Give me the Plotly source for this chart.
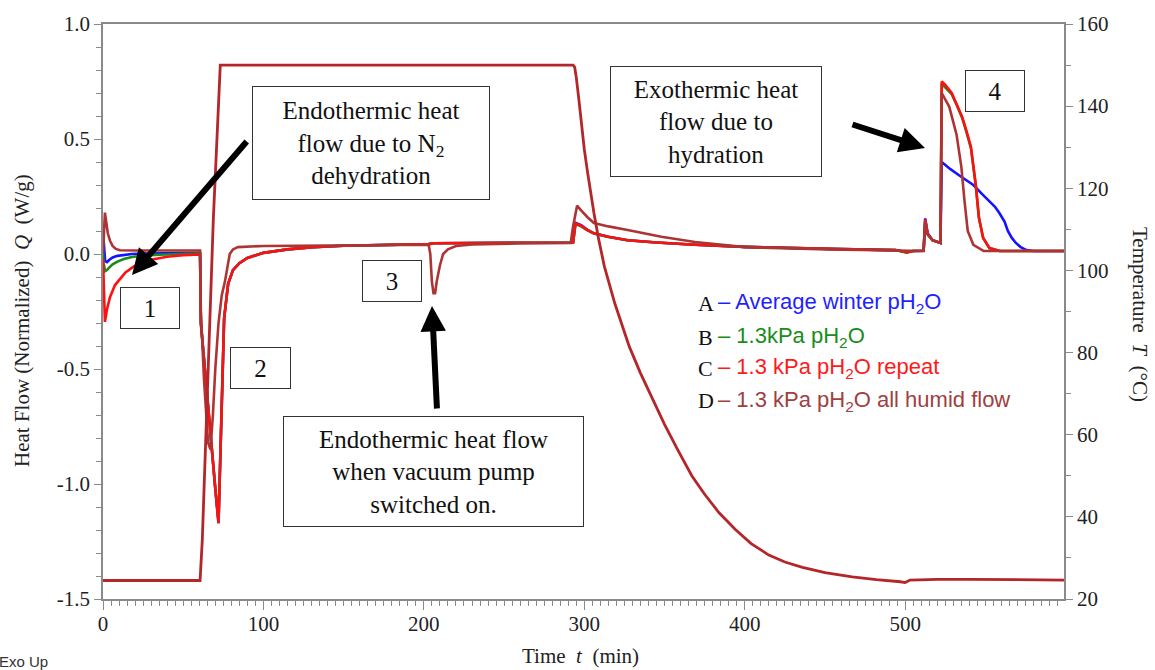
import plotly.graph_objects as go

# ---------------- data ----------------
# A: Average winter pH2O (blue)
tA = [0, 0.4, 1.3, 2.5, 4, 6, 9, 13, 18, 25, 35, 48, 60.5,
      61, 64, 67, 70, 72, 73, 74, 75.5, 77, 78, 81, 85, 90, 100, 115, 131, 150, 173, 200,
      203, 206, 230, 260, 291.5,
      293, 294.5, 298, 302, 306, 315, 327, 345, 369, 400, 431, 460, 494, 498, 501, 505,
      511.5, 512.5, 514, 517, 521, 522,
      522.8, 528, 534, 542.5, 548, 552.5, 556, 559, 562, 564, 566.5, 569, 572, 575.6, 580, 599]
qA = [0.07, 0.06, -0.03, -0.035, -0.025, -0.015, -0.008, -0.003, 0.0, 0.002, 0.003, 0.004, 0.005,
      -0.30, -0.55, -0.80, -1.02, -1.17, -0.92, -0.58, -0.28, -0.19, -0.13, -0.07, -0.04, -0.017, 0.005, 0.02, 0.03, 0.036, 0.04, 0.042,
      0.043, 0.047, 0.047, 0.048, 0.049,
      0.05, 0.135, 0.125, 0.105, 0.09, 0.075, 0.06, 0.05, 0.04, 0.031, 0.025, 0.021, 0.017, 0.012, 0.008, 0.013,
      0.014, 0.155, 0.09, 0.06, 0.05, 0.048,
      0.40, 0.37, 0.34, 0.30, 0.26, 0.23, 0.205, 0.175, 0.14, 0.10, 0.07, 0.048, 0.03, 0.017, 0.013, 0.013]

# B: 1.3kPa pH2O (green)
tB = [0, 0.4, 1.3, 2.5, 4, 6, 9, 13, 18, 25, 35, 48, 60.5,
      61, 64, 67, 70, 72, 73, 74, 75.5, 77, 78, 81, 85, 90, 100, 115, 131, 150, 173, 200,
      203, 206, 230, 260, 291.5,
      293, 294.5, 298, 302, 306, 315, 327, 345, 369, 400, 431, 460, 494, 498, 501, 505,
      511.5, 512.5, 514, 517, 521, 522,
      522.8, 525, 529, 532, 535.6, 538, 541, 544, 546, 548.6, 552.5, 559, 599]
qB = [0.0, -0.04, -0.075, -0.07, -0.058, -0.045, -0.033, -0.022, -0.013, -0.007, -0.003, 0.0, 0.003,
      -0.30, -0.55, -0.80, -1.02, -1.16, -0.92, -0.58, -0.28, -0.19, -0.13, -0.07, -0.04, -0.017, 0.005, 0.02, 0.03, 0.036, 0.04, 0.042,
      0.043, 0.047, 0.047, 0.048, 0.049,
      0.05, 0.13, 0.12, 0.103, 0.089, 0.074, 0.06, 0.05, 0.04, 0.031, 0.025, 0.021, 0.017, 0.01, 0.006, 0.013,
      0.014, 0.145, 0.085, 0.06, 0.05, 0.048,
      0.74, 0.725, 0.695, 0.65, 0.59, 0.535, 0.46, 0.30, 0.155, 0.07, 0.026, 0.013, 0.013]

# C: 1.3 kPa pH2O repeat (red)
tC = [0, 0.5, 1.2, 2.5, 4.4, 7.5, 10.6, 14, 18.8, 24, 29, 40, 50, 60.5,
      61, 64, 67, 70, 72, 73, 74, 75.5, 77, 78, 81, 85, 90, 100, 115, 131, 150, 173, 200,
      203, 206, 230, 260, 291.5,
      293, 294.5, 298, 302, 306, 315, 327, 345, 369, 400, 431, 460, 494, 498, 501, 505,
      511.5, 512.5, 514, 517, 521, 522,
      522.8, 525, 529, 532, 535.6, 538, 541, 544, 546, 548.6, 552.5, 559, 599]
qC = [-0.02, -0.2, -0.295, -0.24, -0.187, -0.135, -0.11, -0.08, -0.056, -0.038, -0.026, -0.012, -0.005, -0.002,
      -0.30, -0.55, -0.80, -1.02, -1.17, -0.92, -0.58, -0.28, -0.19, -0.13, -0.07, -0.04, -0.017, 0.005, 0.02, 0.03, 0.036, 0.04, 0.042,
      0.043, 0.047, 0.047, 0.048, 0.049,
      0.05, 0.133, 0.123, 0.104, 0.09, 0.075, 0.06, 0.05, 0.04, 0.031, 0.025, 0.021, 0.017, 0.012, 0.008, 0.013,
      0.014, 0.15, 0.088, 0.06, 0.05, 0.048,
      0.75, 0.735, 0.70, 0.655, 0.595, 0.54, 0.465, 0.30, 0.157, 0.07, 0.026, 0.013, 0.013]

# D: 1.3 kPa pH2O all humid flow (brown)
tD = [0, 0.5, 1.2, 2, 3, 4.5, 6, 8, 10.6, 20, 60.5,
      61, 63, 65.5, 67, 68.5, 70, 72, 74, 76, 77.5, 79, 81, 84, 100, 150, 200,
      203, 204, 205, 206, 207, 208, 210, 212, 215, 220, 230, 260, 291.5,
      293, 295.5, 298, 302, 306, 315, 327, 348, 369, 400, 452, 494, 500,
      511.5, 512.5, 514, 517, 521, 522,
      522.8, 527.5, 532, 535, 537, 539, 542.5, 549, 599]
qD = [0.0, 0.12, 0.18, 0.14, 0.09, 0.055, 0.035, 0.022, 0.016, 0.015, 0.015,
      -0.25, -0.55, -0.82, -0.85, -0.70, -0.50, -0.30, -0.18, -0.12, -0.05, 0.0, 0.02, 0.03, 0.035, 0.038, 0.04,
      0.04, 0.0, -0.12, -0.17, -0.17, -0.12, -0.05, 0.0, 0.02, 0.035, 0.042, 0.046, 0.048,
      0.12, 0.21, 0.19, 0.16, 0.135, 0.12, 0.104, 0.075, 0.052, 0.03, 0.02, 0.015, 0.012,
      0.013, 0.14, 0.085, 0.06, 0.05, 0.048,
      0.70, 0.64, 0.52, 0.38, 0.23, 0.10, 0.04, 0.013, 0.013]

# Temperature programme (right axis)
tT = [0, 60.5, 61.9, 68.75, 73.1, 293, 294, 295, 296.5, 298, 300, 302, 304, 306, 309, 312.5,
      319, 328, 335, 342, 350, 358, 367, 375, 384, 394, 404, 415, 425, 436, 450, 467, 482, 497,
      500, 503, 520, 540, 599]
temp = [24.5, 24.5, 34.4, 112.3, 150, 150, 149.5, 147, 142, 136, 129.5, 124, 118.5, 114, 107.5, 101,
        92, 81.5, 75, 69, 62.5, 56.5, 50, 45.5, 41, 37, 33.5, 30.7, 29, 27.7, 26.4, 25.4, 24.7, 24.2,
        24.0, 24.6, 24.8, 24.8, 24.6]

q_ticks = [-1.5, -1.0, -0.5, 0.0, 0.5, 1.0]
q_tick_text = ["-1.5", "-1.0", "-0.5", "0.0", "0.5", "1.0"]

series_names = ["Average winter pH<sub>2</sub>O", "1.3kPa pH<sub>2</sub>O",
                "1.3 kPa pH<sub>2</sub>O repeat", "1.3 kPa pH<sub>2</sub>O all humid flow"]
series_letters = ["A", "B", "C", "D"]
line_colors = ["#1414FF", "#1A8A1A", "#FF1010", "#AE3434"]
text_colors = ["#1F1FFF", "#1A8C1A", "#FF1A1A", "#A0403F"]
temp_color = "#B3262A"

# ---------------- geometry helpers ----------------
W, H = 1155, 670
ML, MR, MT, MB = 103, 91, 24, 71
PW, PH = W - ML - MR, H - MT - MB


def px(x):
    return (x - ML) / PW


def py(y):
    return (H - MB - y) / PH


SERIF = "Liberation Serif, Times New Roman, serif"
SANS = "Liberation Sans, Arial, sans-serif"

fig = go.Figure()
for t, q, c in zip([tA, tB, tC, tD], [qA, qB, qC, qD], line_colors):
    fig.add_trace(go.Scatter(x=t, y=q, mode="lines", line=dict(color=c, width=2.6),
                             showlegend=False, hoverinfo="skip"))
fig.add_trace(go.Scatter(x=tT, y=temp, mode="lines", yaxis="y2",
                         line=dict(color=temp_color, width=2.8), showlegend=False, hoverinfo="skip"))

axis_common = dict(showgrid=False, zeroline=False, showline=True, linecolor="#8a8a8a", linewidth=1.5,
                   ticks="outside", tickcolor="#8a8a8a", tickwidth=1.2,
                   tickfont=dict(family=SERIF, size=21, color="#222"))

fig.update_layout(
    width=W, height=H,
    margin=dict(l=ML, r=MR, t=MT, b=MB, pad=0),
    plot_bgcolor="white", paper_bgcolor="white",
    xaxis=dict(range=[0, 599], dtick=100, tick0=0, ticklen=9, mirror=True, ticklabelstandoff=-4,
               minor=dict(dtick=5, ticklen=5, ticks="outside", tickcolor="#8a8a8a"),
               **axis_common),
    yaxis=dict(range=[-1.5, 1.0], tickmode="array", tickvals=q_ticks, ticktext=q_tick_text, ticklen=7,
               minor=dict(dtick=0.1, tick0=0, ticklen=5, ticks="outside", tickcolor="#8a8a8a"),
               **axis_common),
    yaxis2=dict(range=[20, 160], dtick=20, tick0=20, ticklen=7, overlaying="y", side="right",
                minor=dict(dtick=10, ticklen=5, ticks="outside", tickcolor="#8a8a8a"),
                **axis_common),
)

ann = []
# axis titles
ann.append(dict(x=px(22), y=py(321), xref="paper", yref="paper", xanchor="center", yanchor="middle",
                textangle=-90, showarrow=False,
                text="Heat Flow (Normalized)  <i>Q</i>  (W/g)", font=dict(family=SERIF, size=21, color="#222")))
ann.append(dict(x=px(1140), y=py(314), xref="paper", yref="paper", xanchor="center", yanchor="middle",
                textangle=90, showarrow=False,
                text="Temperature  <i>T</i>  (°C)", font=dict(family=SERIF, size=21, color="#222")))
ann.append(dict(x=px(580), y=py(656), xref="paper", yref="paper", xanchor="center", yanchor="middle",
                showarrow=False,
                text="Time  <i>t</i>  (min)", font=dict(family=SERIF, size=21, color="#222")))
ann.append(dict(x=px(-3), y=py(661), xref="paper", yref="paper", xanchor="left", yanchor="middle",
                showarrow=False, text="Exo Up", font=dict(family=SANS, size=15, color="#333")))


# text boxes
def box(left, top, w, h, text, size=25):
    return dict(x=px(left), y=py(top), xref="paper", yref="paper", xanchor="left", yanchor="top",
                showarrow=False, text=text, width=w - 2, height=h - 2, borderpad=0,
                bordercolor="#333", borderwidth=1, bgcolor="white", align="center", valign="middle",
                font=dict(family=SERIF, size=size, color="#111"))


ann.append(box(252, 86, 238, 114, "Endothermic heat<br>flow due to N<sub>2</sub><br>dehydration"))
ann.append(box(610, 66, 212, 111, "Exothermic heat<br>flow due to<br>hydration"))
ann.append(box(283, 416, 301, 111, "Endothermic heat flow<br>when vacuum pump<br>switched on."))
ann.append(box(120, 287, 60, 42, "1"))
ann.append(box(230, 347, 61, 42, "2"))
ann.append(box(362, 260, 60, 42, "3"))
ann.append(box(965, 70, 60, 42, "4"))


# arrows
def arrow(hx, hy, tx, ty):
    return dict(x=px(hx), y=py(hy), xref="paper", yref="paper", ax=tx - hx, ay=ty - hy,
                text="", showarrow=True, arrowhead=2, arrowsize=0.85, arrowwidth=6,
                arrowcolor="black", standoff=0, startstandoff=0)


ann.append(arrow(132, 275, 248, 140))
ann.append(arrow(432, 306, 437, 410))
ann.append(arrow(925, 148, 851, 124))

# legend (drawn as text)
rows_y = [303, 337, 368, 401]
for letter, name, col, yy in zip(series_letters, series_names, text_colors, rows_y):
    ann.append(dict(x=px(696), y=py(yy), xref="paper", yref="paper", xanchor="left", yanchor="middle",
                    showarrow=False, text=letter, font=dict(family=SERIF, size=22, color="#111")))
    ann.append(dict(x=px(716), y=py(yy), xref="paper", yref="paper", xanchor="left", yanchor="middle",
                    showarrow=False, text="– " + name, font=dict(family=SANS, size=22, color=col)))

fig.update_layout(annotations=ann)
fig.write_html("out.html")
